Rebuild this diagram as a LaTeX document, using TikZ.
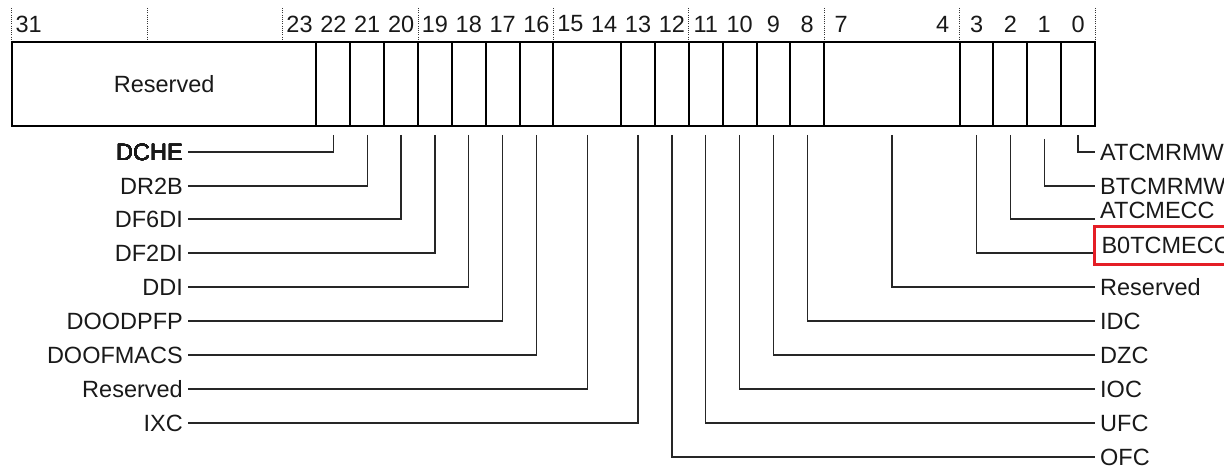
\documentclass[tikz,border=0pt]{standalone}
\usepackage{fontspec}
\setmainfont{Liberation Sans}
\definecolor{hl}{RGB}{228,30,38}
\definecolor{ink}{RGB}{25,25,25}
\newcommand\regfield[4]{\node[cell, minimum width={(#2-#3+1)*33.85pt}] (#1) at ({1095-(#2+#3+1)*33.85/2},84) {#4};}
\begin{document}
\begin{tikzpicture}[x=1pt,y=-1pt,
  txt/.style={text=ink, font=\fontsize{23.5}{28}\selectfont},
  cell/.style={draw=black, line width=2pt, minimum height=84pt, inner sep=0pt, txt},
  bitnum/.style={inner sep=0pt, txt},
  llab/.style={inner sep=0pt, inner xsep=5pt, anchor=east, txt},
  rlab/.style={inner sep=0pt, inner xsep=5pt, anchor=west, txt},
  conn/.style={line width=1.3pt, draw=black!85},
  tick/.style={line width=0.8pt, draw=black!80, dash pattern=on 1pt off 1.2pt}]
\useasboundingbox (0,0) rectangle (1224,468);
% dotted ticks every 4 bits
\foreach \k in {0,...,8} \draw[tick] ({1095-4*\k*33.85},8) -- ({1095-4*\k*33.85},40);
% bit numbers
\foreach \b in {31,23,22,21,20,19,18,17,16,15,14,13,12,11,10,9,8,7,4,3,2,1,0}
  \node[bitnum] (n\b) at ({1095-(\b+0.5)*33.85},24) {\b};
% register fields
\regfield{fR31}{31}{23}{Reserved}
\foreach \b in {22,21,20,19,18,17,16,13,12,11,10,9,8,3,2,1,0}
  \regfield{f\b}{\b}{\b}{}
\regfield{fR15}{15}{14}{}
\regfield{fR7}{7}{4}{}
% left labels
\node[llab] (lDCHE) at (188,152) {DCHE};
\node[llab] (lDR2B) at (188,186) {DR2B};
\node[llab] (lDF6DI) at (188,219) {DF6DI};
\node[llab] (lDF2DI) at (188,253) {DF2DI};
\node[llab] (lDDI) at (188,287) {DDI};
\node[llab] (lDOODPFP) at (188,321) {DOODPFP};
\node[llab] (lDOOFMACS) at (188,355) {DOOFMACS};
\node[llab] (lRes15) at (188,389) {Reserved};
\node[llab] (lIXC) at (188,423) {IXC};
% right labels
\node[rlab] (lATCMRMW) at (1095,152) {ATCMRMW};
\node[rlab] (lBTCMRMW) at (1095,186) {BTCMRMW};
\node[rlab] (lATCMECC) at (1095,210) {ATCMECC};
\node[rlab, draw=hl, line width=3pt, inner xsep=7pt, minimum height=38pt] (lB0TCMECC) at (1093,245) {B0TCMECC};
\node[rlab] (lRes7) at (1095,287) {Reserved};
\node[rlab] (lIDC) at (1095,321) {IDC};
\node[rlab] (lDZC) at (1095,355) {DZC};
\node[rlab] (lIOC) at (1095,389) {IOC};
\node[rlab] (lUFC) at (1095,423) {UFC};
\node[rlab] (lOFC) at (1095,457) {OFC};
% connectors left
\draw[conn] ([yshift=-8pt]f22.south) |- (lDCHE.east);
\draw[conn] ([yshift=-8pt]f21.south) |- (lDR2B.east);
\draw[conn] ([yshift=-8pt]f20.south) |- (lDF6DI.east);
\draw[conn] ([yshift=-8pt]f19.south) |- (lDF2DI.east);
\draw[conn] ([yshift=-8pt]f18.south) |- (lDDI.east);
\draw[conn] ([yshift=-8pt]f17.south) |- (lDOODPFP.east);
\draw[conn] ([yshift=-8pt]f16.south) |- (lDOOFMACS.east);
\draw[conn] ([yshift=-8pt]fR15.south) |- (lRes15.east);
\draw[conn] ([yshift=-8pt]f13.south) |- (lIXC.east);
% connectors right
\draw[conn] ([yshift=-8pt]f0.south) |- (lATCMRMW.west);
\draw[conn] ([yshift=-12pt]f1.south) |- (lBTCMRMW.west);
\draw[conn] ([yshift=-8pt]f2.south) |- ([yshift=-9pt]lATCMECC.west);
\draw[conn] ([yshift=-8pt]f3.south) |- ([yshift=-8pt]lB0TCMECC.west);
\draw[conn] ([yshift=-8pt]fR7.south) |- (lRes7.west);
\draw[conn] ([yshift=-8pt]f8.south) |- (lIDC.west);
\draw[conn] ([yshift=-8pt]f9.south) |- (lDZC.west);
\draw[conn] ([yshift=-8pt]f10.south) |- (lIOC.west);
\draw[conn] ([yshift=-8pt]f11.south) |- (lUFC.west);
\draw[conn] ([yshift=-8pt]f12.south) |- (lOFC.west);
\end{tikzpicture}
\end{document}
